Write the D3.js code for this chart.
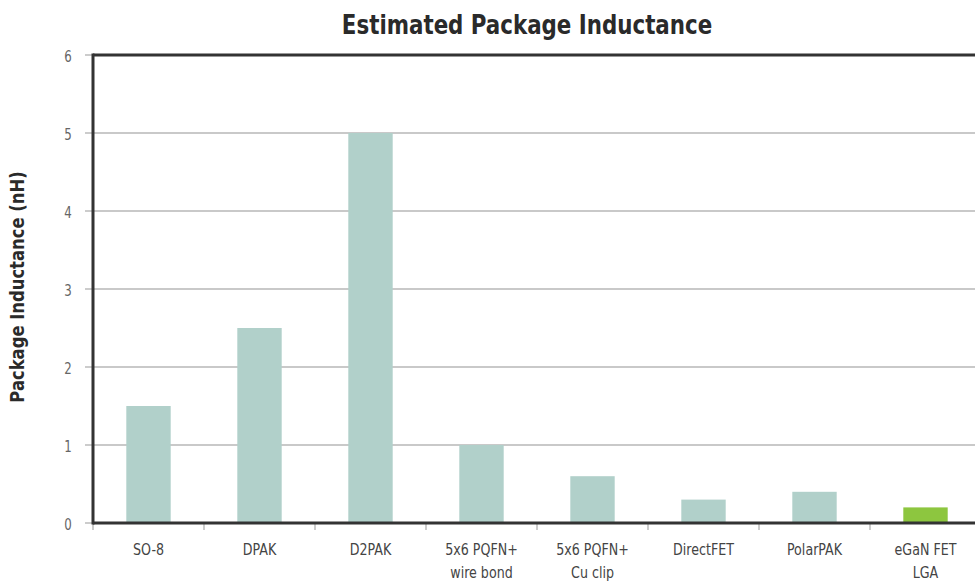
<!DOCTYPE html>
<html><head><meta charset="utf-8">
<script src="https://cdn.jsdelivr.net/npm/d3@7"></script>
<style>
body{margin:0;background:#fff;}
svg{display:block;}
text{font-family:"DejaVu Sans Condensed","Liberation Sans Narrow","Roboto Condensed",sans-serif;}
</style></head><body>
<svg id="chart" width="975" height="584"></svg>
<script>
const categories = ["SO-8","DPAK","D2PAK","5x6 PQFN+|wire bond","5x6 PQFN+|Cu clip","DirectFET","PolarPAK","eGaN FET|LGA"];
const values = [1.5, 2.5, 5.0, 1.0, 0.6, 0.3, 0.4, 0.2];
const highlight = [false,false,false,false,false,false,false,true];
const yTicks = [0,1,2,3,4,5,6];
const title = "Estimated Package Inductance";
const yLabel = "Package Inductance (nH)";

const svg = d3.select("#chart");
const m = {left:93, top:55, right:-6, bottom:61};
const W = 975, H = 584;
const x = d3.scaleBand().domain(categories).range([m.left, W - m.right]).paddingInner(0).paddingOuter(0);
const y = d3.scaleLinear().domain([0,6]).range([H - m.bottom, m.top]);

// gridlines
svg.append("g").selectAll("line").data(yTicks.filter(d=>d>0 && d<6)).join("line")
  .attr("x1", m.left).attr("x2", W).attr("y1", d=>y(d)).attr("y2", d=>y(d))
  .attr("stroke","#c9c9c9").attr("stroke-width",2);

// y tick marks & labels
const ya = svg.append("g");
ya.selectAll("line").data(yTicks).join("line")
  .attr("x1", m.left-8).attr("x2", m.left).attr("y1", d=>y(d)).attr("y2", d=>y(d))
  .attr("stroke","#bbb").attr("stroke-width",1.5);
ya.selectAll("text").data(yTicks).join("text")
  .attr("transform", d=>`translate(68,${y(d)+7}) scale(0.82,1)`).attr("text-anchor","middle")
  .attr("font-size",16).attr("fill","#666").text(d=>d);

// bars
const bw = x.bandwidth()*0.4;
svg.append("g").selectAll("rect").data(values).join("rect")
  .attr("x",(d,i)=>x(categories[i]) + x.bandwidth()/2 - bw/2)
  .attr("y", d=>y(d))
  .attr("width", bw)
  .attr("height", d=>y(0)-y(d))
  .attr("fill",(d,i)=>highlight[i] ? "#8dc63f" : "#b1d0ca");

// x ticks
const xt = categories.map(c=>x(c)).concat([x(categories[categories.length-1])+x.bandwidth()]);
svg.append("g").selectAll("line").data(xt).join("line")
  .attr("x1",d=>d).attr("x2",d=>d).attr("y1", y(0)).attr("y2", y(0)+7)
  .attr("stroke","#bbb").attr("stroke-width",1.5);

// frame: top, left, bottom
svg.append("line").attr("x1",m.left).attr("x2",W).attr("y1",m.top).attr("y2",m.top).attr("stroke","#333").attr("stroke-width",3);
svg.append("line").attr("x1",m.left).attr("x2",m.left).attr("y1",m.top-1.5).attr("y2",y(0)+1.5).attr("stroke","#333").attr("stroke-width",3);
svg.append("line").attr("x1",m.left).attr("x2",W).attr("y1",y(0)).attr("y2",y(0)).attr("stroke","#333").attr("stroke-width",3);

// x labels
const xl = svg.append("g").selectAll("text").data(categories).join("text")
  .attr("text-anchor","middle").attr("font-size",16).attr("fill","#444")
  .attr("transform", c=>`translate(${x(c)+x.bandwidth()/2},${y(0)+32}) scale(0.88,1)`);
xl.each(function(c){
  const parts = c.split("|");
  const t = d3.select(this);
  parts.forEach((p,i)=>t.append("tspan").attr("x",0).attr("dy", i===0?0:23).text(p));
});

// title
svg.append("text").attr("transform","translate(527,34) scale(0.88,1)").attr("text-anchor","middle")
  .attr("font-size",27).attr("font-weight","bold").attr("fill","#2a2a2a").text(title);

// y label
svg.append("text").attr("transform",`translate(24,${(m.top+y(0))/2-2}) rotate(-90) scale(0.96,1)`)
  .attr("text-anchor","middle").attr("font-size",19).attr("font-weight","bold").attr("fill","#2a2a2a").text(yLabel);
</script>
</body></html>
